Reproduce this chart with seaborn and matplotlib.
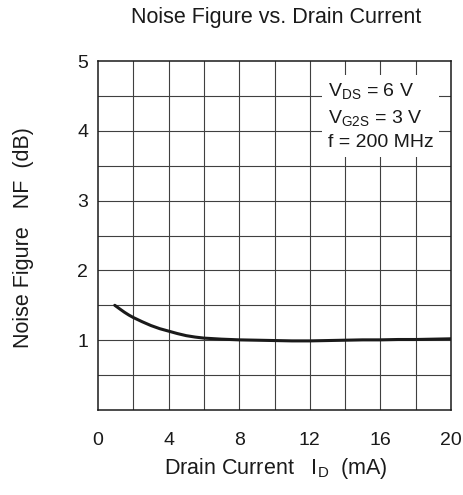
import matplotlib
matplotlib.use("Agg")
import matplotlib.pyplot as plt
import seaborn as sns
import pandas as pd
import numpy as np

drain_current_mA = [0.95, 1.25, 1.5, 1.75, 2, 2.5, 3, 3.5, 4, 4.5, 5, 5.5, 6, 7, 8, 9, 10, 11, 12, 13, 14, 15, 16, 17, 18, 19, 20]
noise_figure_dB = [1.50, 1.445, 1.40, 1.36, 1.325, 1.265, 1.21, 1.165, 1.13, 1.095, 1.065, 1.045, 1.03, 1.015, 1.005, 1.0, 0.995, 0.99, 0.99, 0.995, 1.0, 1.005, 1.005, 1.01, 1.01, 1.015, 1.02]
x_ticks = [0, 4, 8, 12, 16, 20]
y_ticks = [1, 2, 3, 4, 5]
legend_lines = [r"V$_{\mathregular{DS}}$ = 6 V", r"V$_{\mathregular{G2S}}$ = 3 V", "f = 200 MHz"]

sns.set_theme(style="white")
plt.rcParams['font.family'] = ['Liberation Sans', 'DejaVu Sans']
plt.rcParams['mathtext.fontset'] = 'custom'
plt.rcParams['mathtext.rm'] = 'Liberation Sans'

df = pd.DataFrame({"I": drain_current_mA, "NF": noise_figure_dB})

fig = plt.figure(figsize=(4.64, 4.95), dpi=100)
ax = fig.add_axes([98/464, 85/495, 353/464, 349/495])

ax.set_xlim(0, 20)
ax.set_ylim(0, 5)
for xv in np.arange(2, 20, 2):
    ax.axvline(xv, color="#404040", lw=0.8, zorder=1)
for yv in np.arange(0.5, 5, 0.5):
    ax.axhline(yv, color="#404040", lw=0.8, zorder=1)

sns.lineplot(data=df, x="I", y="NF", ax=ax, color="#1a1a1a", lw=2.2, zorder=3)

ax.set_xticks(x_ticks)
ax.set_yticks(y_ticks)
ax.tick_params(axis="both", length=0, labelsize=14, colors="#1a1a1a")
ax.tick_params(axis="x", pad=16)
ax.tick_params(axis="y", pad=7)
for s in ax.spines.values():
    s.set_color("#1a1a1a")
    s.set_linewidth(1.1)
    s.set_visible(True)

ax.set_xlabel(r"Drain Current   I$_{\mathregular{D}}$  (mA)", fontsize=15.5, color="#1a1a1a")
ax.xaxis.set_label_coords((276 - 98) / 353, (410 - 456) / 349)
ax.set_ylabel("Noise Figure   NF  (dB)", fontsize=15.5, color="#1a1a1a")
ax.yaxis.set_label_coords((34 - 98) / 353, (410 - 238) / 349)
fig.text(276.5 / 464, 1 - 18 / 495, "Noise Figure vs. Drain Current", fontsize=15.5,
         ha="center", va="center", color="#1a1a1a")

ax.text((328 - 98) / 353, (410 - 116.5) / 349, "\n".join(legend_lines), transform=ax.transAxes,
        ha="left", va="center", fontsize=14, linespacing=1.4, color="#1a1a1a", zorder=4,
        bbox=dict(facecolor="white", edgecolor="none", pad=4))

fig.savefig("out.png", dpi=100)
